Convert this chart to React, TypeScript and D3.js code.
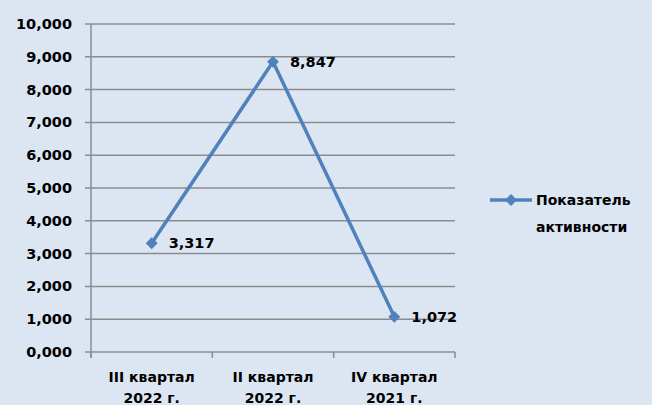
import React, { useEffect, useRef } from "react";
import * as d3 from "d3";

const categories = ["III квартал|2022 г.", "II квартал|2022 г.", "IV квартал|2021 г."];
const values = [3317, 8847, 1072];
const yTicks = [0, 1000, 2000, 3000, 4000, 5000, 6000, 7000, 8000, 9000, 10000];
const seriesName = ["Показатель", "активности"];

// 3317 -> "3,317" ; 0 -> "0,000"
const fmtTick = (v: number) => d3.format(".3f")(v / 1000).replace(".", ",");

const App = () => {
    const ref = useRef<SVGSVGElement>(null);

    useEffect(() => {
        const svg = d3.select(ref.current);
        svg.selectAll("*").remove();

        const W = 652, H = 405;
        const left = 91, right = 455, top = 24, bottom = 352;
        const font = "Tahoma, 'DejaVu Sans', sans-serif";

        svg.append("rect").attr("width", W).attr("height", H).attr("fill", "#dce6f2");

        const x = d3.scaleBand().domain(categories).range([left, right]);
        const y = d3.scaleLinear().domain([0, 10000]).range([bottom, top]);

        // gridlines
        svg.append("g").selectAll("line").data(yTicks).enter().append("line")
            .attr("x1", left - 6).attr("x2", right)
            .attr("y1", d => y(d)).attr("y2", d => y(d))
            .attr("stroke", "#8c8c8c").attr("stroke-width", 1.5);

        // y axis line
        svg.append("line").attr("x1", left).attr("x2", left).attr("y1", top).attr("y2", bottom + 6)
            .attr("stroke", "#8c8c8c").attr("stroke-width", 1.5);

        // x tick marks
        const bounds = categories.map(c => x(c) as number).concat([right]);
        svg.append("g").selectAll("line").data(bounds).enter().append("line")
            .attr("x1", d => d).attr("x2", d => d).attr("y1", bottom).attr("y2", bottom + 6)
            .attr("stroke", "#8c8c8c").attr("stroke-width", 1.5);

        // y labels
        svg.append("g").selectAll("text").data(yTicks).enter().append("text")
            .attr("x", 72).attr("y", d => y(d)).attr("dy", "0.35em")
            .attr("text-anchor", "end")
            .attr("font-family", font).attr("font-size", 14.5).attr("font-weight", "bold")
            .attr("fill", "#000")
            .text(d => fmtTick(d));

        // x labels
        const xl = svg.append("g").selectAll("text").data(categories).enter().append("text")
            .attr("x", d => (x(d) as number) + x.bandwidth() / 2)
            .attr("y", bottom + 30)
            .attr("text-anchor", "middle")
            .attr("font-family", font).attr("font-size", 14).attr("font-weight", "bold")
            .attr("fill", "#000");
        xl.append("tspan").attr("x", d => (x(d) as number) + x.bandwidth() / 2).text(d => d.split("|")[0]);
        xl.append("tspan").attr("x", d => (x(d) as number) + x.bandwidth() / 2).attr("dy", 21).text(d => d.split("|")[1]);

        const pts = values.map((v, i) => [(x(categories[i]) as number) + x.bandwidth() / 2, y(v)] as [number, number]);

        svg.append("path").datum(pts)
            .attr("d", d3.line())
            .attr("fill", "none").attr("stroke", "#4f81bd").attr("stroke-width", 3.5)
            .attr("stroke-linejoin", "round");

        const diamond = d3.symbol().type(d3.symbolDiamond2).size(90);
        svg.append("g").selectAll("path").data(pts).enter().append("path")
            .attr("d", diamond)
            .attr("transform", d => `translate(${d[0]},${d[1]})`)
            .attr("fill", "#4f81bd");

        // value labels
        svg.append("g").selectAll("text").data(values).enter().append("text")
            .attr("x", (d, i) => pts[i][0] + 17).attr("y", (d, i) => pts[i][1]).attr("dy", "0.35em")
            .attr("font-family", font).attr("font-size", 14.5).attr("font-weight", "bold")
            .attr("fill", "#000")
            .text(d => fmtTick(d));

        // legend
        svg.append("line").attr("x1", 490).attr("x2", 532).attr("y1", 200).attr("y2", 200)
            .attr("stroke", "#4f81bd").attr("stroke-width", 3.5);
        svg.append("path").attr("d", diamond).attr("transform", "translate(511,200)").attr("fill", "#4f81bd");
        svg.append("g").selectAll("text").data(seriesName).enter().append("text")
            .attr("x", 536).attr("y", (d, i) => 200 + i * 27).attr("dy", "0.35em")
            .attr("font-family", font).attr("font-size", 14).attr("font-weight", "bold")
            .attr("fill", "#000")
            .text(d => d);
    }, []);

    return <svg ref={ref} width={652} height={405} style={{ position: "absolute", left: 0, top: 0 }} />;
};

export default App;
